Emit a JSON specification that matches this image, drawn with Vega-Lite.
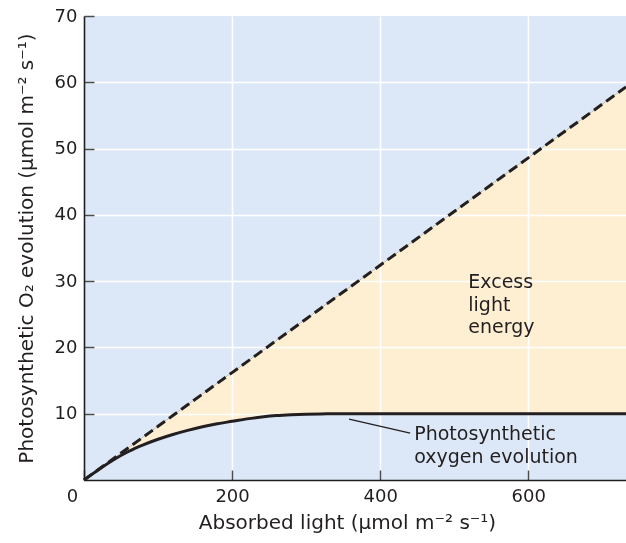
{
  "$schema": "https://vega.github.io/schema/vega-lite/v6.json",
  "width": 542,
  "height": 464,
  "autosize": {"type": "none"},
  "padding": {"left": 84, "top": 16, "right": 0, "bottom": 63},
  "background": "white",
  "config": {
    "view": {"fill": "black", "stroke": null},
    "font": "DejaVu Sans"
  },
  "datasets": {
    "curve": [
      {"light": 0, "o2": 0, "maxrate": 0},
      {"light": 20, "o2": 1.58, "maxrate": 1.62},
      {"light": 40, "o2": 3.05, "maxrate": 3.24},
      {"light": 60, "o2": 4.3, "maxrate": 4.86},
      {"light": 80, "o2": 5.3, "maxrate": 6.48},
      {"light": 100, "o2": 6.15, "maxrate": 8.1},
      {"light": 120, "o2": 6.87, "maxrate": 9.72},
      {"light": 140, "o2": 7.49, "maxrate": 11.34},
      {"light": 160, "o2": 8.03, "maxrate": 12.96},
      {"light": 180, "o2": 8.48, "maxrate": 14.58},
      {"light": 200, "o2": 8.85, "maxrate": 16.2},
      {"light": 220, "o2": 9.22, "maxrate": 17.82},
      {"light": 240, "o2": 9.5, "maxrate": 19.44},
      {"light": 260, "o2": 9.72, "maxrate": 21.06},
      {"light": 280, "o2": 9.85, "maxrate": 22.68},
      {"light": 300, "o2": 9.93, "maxrate": 24.3},
      {"light": 320, "o2": 9.97, "maxrate": 25.92},
      {"light": 350, "o2": 10, "maxrate": 28.35},
      {"light": 400, "o2": 10, "maxrate": 32.4},
      {"light": 500, "o2": 10, "maxrate": 40.5},
      {"light": 600, "o2": 10, "maxrate": 48.6},
      {"light": 732, "o2": 10, "maxrate": 59.29}
    ],
    "leader": [
      {"x1": 358, "y1": 9.17, "x2": 440.5, "y2": 7.06}
    ],
    "labels": [
      {"lx": 519, "ly": 28.9, "txt": "Excess\nlight\nenergy"},
      {"lx": 446, "ly": 6.0, "txt": "Photosynthetic\noxygen evolution"}
    ]
  },
  "layer": [
    {
      "data": {"name": "curve"},
      "mark": {"type": "area", "fill": "#DCE8F7", "blend": "screen", "interpolate": "monotone"},
      "encoding": {
        "x": {"field": "light", "type": "quantitative", "scale": {"domain": [0, 732], "nice": false},
          "axis": {"orient": "bottom", "values": [200, 400, 600], "grid": true, "gridColor": "white", "gridWidth": 1.6, "gridOpacity": 1, "domain": false, "ticks": false, "labels": false, "title": null, "zindex": 0}},
        "y": {"field": "o2", "type": "quantitative", "scale": {"domain": [0, 70], "nice": false},
          "axis": {"orient": "left", "values": [10, 20, 30, 40, 50, 60], "grid": true, "gridColor": "white", "gridWidth": 1.6, "gridOpacity": 1, "domain": false, "ticks": false, "labels": false, "title": null, "zindex": 0}},
        "y2": {"datum": 0}
      }
    },
    {
      "data": {"name": "curve"},
      "mark": {"type": "area", "fill": "#FFEFD2", "blend": "screen", "interpolate": "monotone"},
      "encoding": {
        "x": {"field": "light", "type": "quantitative", "axis": null},
        "y": {"field": "o2", "type": "quantitative", "axis": null},
        "y2": {"field": "maxrate"}
      }
    },
    {
      "data": {"name": "curve"},
      "mark": {"type": "area", "fill": "#DCE8F7", "blend": "screen", "interpolate": "monotone"},
      "encoding": {
        "x": {"field": "light", "type": "quantitative", "axis": null},
        "y": {"field": "maxrate", "type": "quantitative", "axis": null},
        "y2": {"datum": 70}
      }
    },
    {
      "data": {"name": "curve"},
      "mark": {"type": "line", "stroke": "#231F20", "strokeWidth": 3, "strokeDash": [10, 5]},
      "encoding": {
        "x": {"field": "light", "type": "quantitative", "axis": null},
        "y": {"field": "maxrate", "type": "quantitative", "axis": null}
      }
    },
    {
      "data": {"name": "curve"},
      "mark": {"type": "line", "stroke": "#231F20", "strokeWidth": 3, "interpolate": "monotone"},
      "encoding": {
        "x": {"field": "light", "type": "quantitative",
          "axis": {"orient": "bottom", "values": [0, 200, 400, 600], "grid": false, "zindex": 1,
            "domainColor": "#231F20", "domainWidth": 1.6, "tickColor": "#4d4d4d", "tickWidth": 1.5, "tickSize": -10,
            "labelFont": "DejaVu Sans", "labelFontSize": 18, "labelColor": "#231F20", "labelPadding": 17, "labelFlush": false,
            "labelOffset": {"condition": {"test": "datum.value == 0", "value": -12}, "value": 0},
            "title": "Absorbed light (μmol m⁻² s⁻¹)", "titleFont": "DejaVu Sans", "titleFontSize": 20, "titleFontWeight": "normal", "titleColor": "#231F20", "titlePadding": 7, "titleX": 263}},
        "y": {"field": "o2", "type": "quantitative",
          "axis": {"orient": "left", "values": [10, 20, 30, 40, 50, 60, 70], "grid": false, "zindex": 1,
            "domainColor": "#231F20", "domainWidth": 1.6, "tickColor": "#4d4d4d", "tickWidth": 1.5, "tickSize": -10,
            "labelFont": "DejaVu Sans", "labelFontSize": 18, "labelColor": "#231F20", "labelPadding": 17,
            "title": "Photosynthetic O₂ evolution (μmol m⁻² s⁻¹)", "titleFont": "DejaVu Sans", "titleFontSize": 20, "titleFontWeight": "normal", "titleColor": "#231F20", "titlePadding": 18}}
      }
    },
    {
      "data": {"name": "leader"},
      "mark": {"type": "rule", "stroke": "#231F20", "strokeWidth": 1.3},
      "encoding": {
        "x": {"field": "x1", "type": "quantitative", "axis": null},
        "y": {"field": "y1", "type": "quantitative", "axis": null},
        "x2": {"field": "x2"},
        "y2": {"field": "y2"}
      }
    },
    {
      "data": {"name": "labels"},
      "mark": {"type": "text", "align": "left", "baseline": "alphabetic", "font": "DejaVu Sans", "fontSize": 19, "color": "#231F20", "lineBreak": "\n", "lineHeight": 22.5},
      "encoding": {
        "x": {"field": "lx", "type": "quantitative", "axis": null},
        "y": {"field": "ly", "type": "quantitative", "axis": null},
        "text": {"field": "txt"}
      }
    }
  ],
  "resolve": {"axis": {"x": "independent", "y": "independent"}}
}
